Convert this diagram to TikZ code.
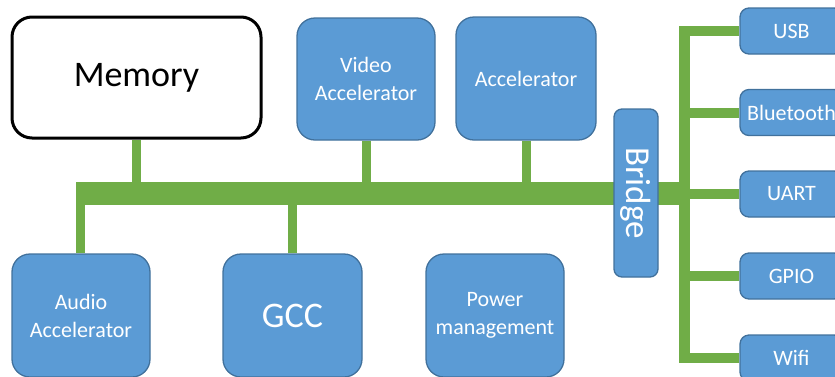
\documentclass[tikz,border=0pt]{standalone}
\usepackage{fontspec}
\setmainfont{Carlito}
\usetikzlibrary{backgrounds}
\definecolor{boxblue}{HTML}{5B9BD5}
\definecolor{boxedge}{HTML}{41719C}
\definecolor{busgreen}{HTML}{70AD47}
\begin{document}
\begin{tikzpicture}[x=1pt,y=-1pt,
  blk/.style={draw=boxedge, fill=boxblue, line width=1.3pt, rounded corners=18pt,
    text=white, align=center, inner sep=0pt, font=\fontsize{22}{28}\selectfont},
  small/.style={blk, rounded corners=9pt, minimum width=103pt, minimum height=46pt},
  big/.style={font=\fontsize{36}{40}\selectfont},
  busline/.style={draw=busgreen, line width=23pt},
  vbar/.style={draw=busgreen, line width=11pt},
  stub/.style={draw=busgreen, line width=9pt},
  branch/.style={draw=busgreen, line width=10pt},
]
\useasboundingbox (0,0) rectangle (835,376);
\clip (0,0) rectangle (835,376);
% nodes
\node[draw=black, fill=white, line width=3pt, rounded corners=20pt, minimum width=249pt,
  minimum height=121pt, inner sep=0pt, font=\fontsize{36}{40}\selectfont] (mem) at (136.5,77.5) {Memory};
\node[blk, minimum width=138pt, minimum height=122pt] (video) at (366,79) {Video\\Accelerator};
\node[blk, minimum width=140pt, minimum height=123pt] (accel) at (526,78.5) {Accelerator};
\node[blk, minimum width=138pt, minimum height=123pt] (audio) at (81,315.5) {Audio\\Accelerator};
\node[blk, big, minimum width=139pt, minimum height=123pt] (gcc) at (292.5,315.5) {GCC};
\node[blk, minimum width=138pt, minimum height=123pt] (power) at (495,315.5) {Power\\management};
\node[blk, rounded corners=8pt, minimum width=44pt, minimum height=168pt] (bridge) at (636,193) {};
\node[text=white, rotate=-90, font=\fontsize{35}{40}\selectfont, inner sep=0pt] (bridgetxt) at (bridge.center) {Bridge};
\node[small] (usb) at (791.5,31) {USB};
\node[small] (bt) at (791.5,112.5) {Bluetooth};
\node[small] (uart) at (791.5,194) {UART};
\node[small] (gpio) at (791.5,276) {GPIO};
\node[small] (wifi) at (791.5,358) {Wifi};
% bus coordinates
\coordinate (busL) at (80.5,193.5);
\coordinate (busR) at (684.5,193.5);
\coordinate (vtop) at (684.5,26);
\coordinate (vbot) at (684.5,363);
% connectors behind the boxes
\begin{scope}[on background layer]
  \draw[busline] ([xshift=-4.5pt]busL) -- ([xshift=5.5pt]busR);
  \draw[vbar] (vtop) -- (vbot);
  \draw[stub] (busL) -- (busL |- audio.north);
  \draw[stub] (mem.south) -- (mem.south |- busL);
  \draw[stub] (video.south) -- (video.south |- busL);
  \draw[stub] (accel.south) -- (accel.south |- busL);
  \draw[stub] (gcc.north) -- (gcc.north |- busL);
  \draw[branch] (usb.west) -- (usb.west -| vtop);
  \draw[branch] (bt.west) -- (bt.west -| vtop);
  \draw[branch] (uart.west) -- (uart.west -| vtop);
  \draw[branch] (gpio.west) -- (gpio.west -| vtop);
  \draw[branch] (wifi.west) -- (wifi.west -| vtop);
\end{scope}
\end{tikzpicture}
\end{document}
